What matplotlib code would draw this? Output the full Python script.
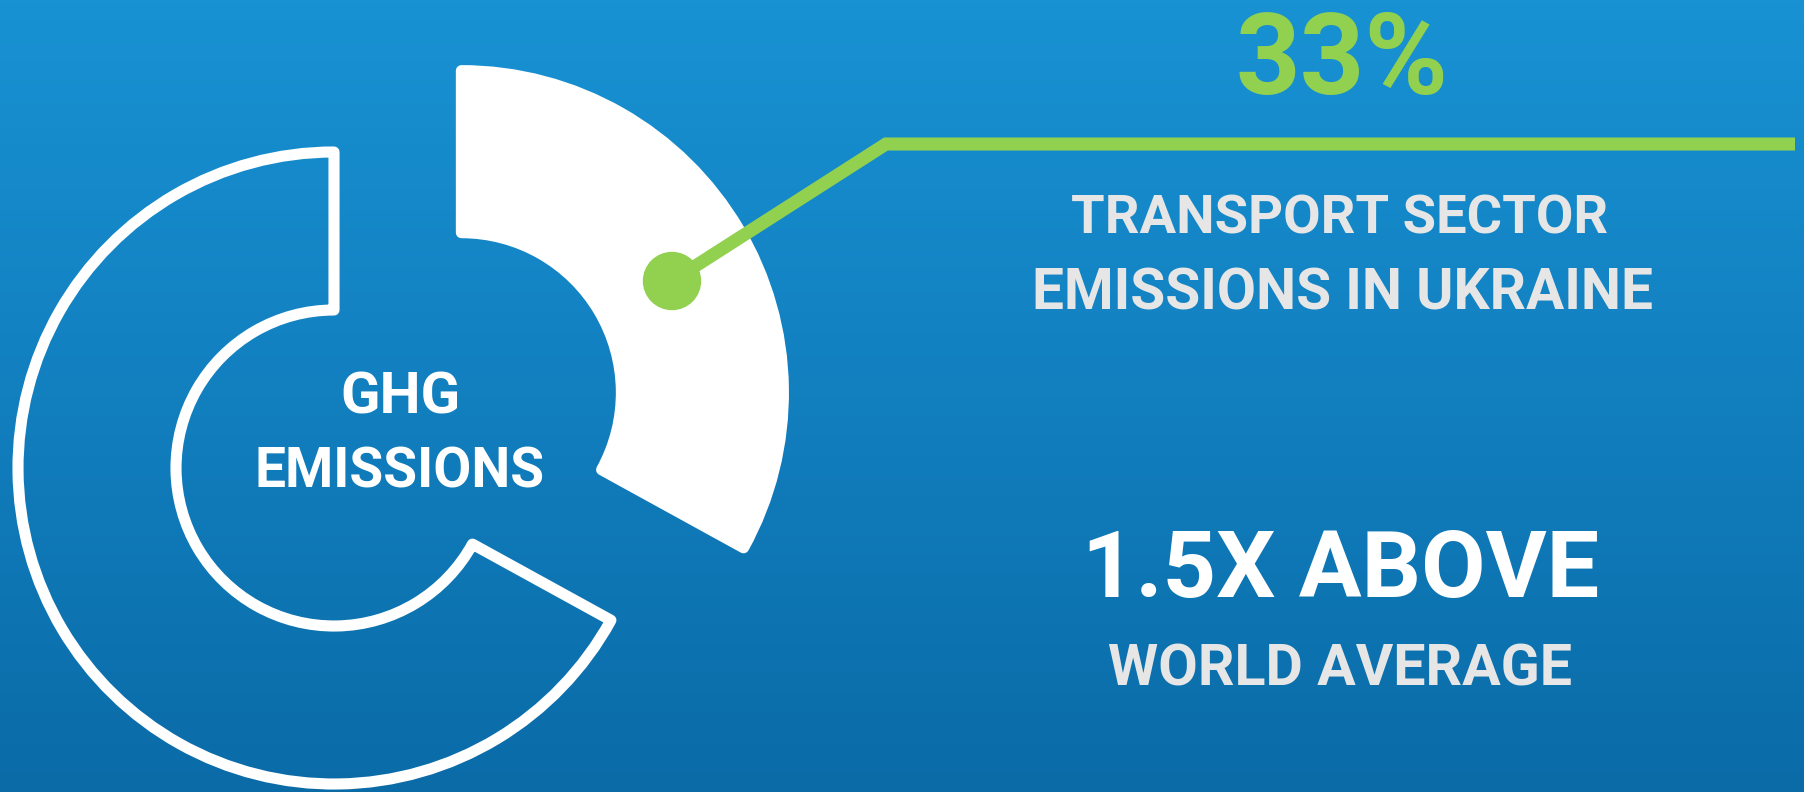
import numpy as np
import matplotlib
matplotlib.use('Agg')
import matplotlib.pyplot as plt
from matplotlib.colors import LinearSegmentedColormap
from matplotlib.patches import Circle

plt.rcParams['font.family'] = ['Roboto', 'DejaVu Sans']

# data
shares = [33, 67]
share_label = '33%'
sector_lines = ['TRANSPORT SECTOR', 'EMISSIONS IN UKRAINE']
compare_lines = ['1.5X ABOVE', 'WORLD AVERAGE']
center_lines = ['GHG', 'EMISSIONS']

W, H = 1804, 792
green = '#92d050'
grey = '#e6e6e6'

fig = plt.figure(figsize=(W / 100, H / 100), dpi=100)
ax = fig.add_axes([0, 0, 1, 1])

# background gradient
bg = LinearSegmentedColormap.from_list('bg', ['#0a6ba7', '#127fbf', '#1892d3'])
grad = np.linspace(0, 1, 256).reshape(-1, 1)
ax.imshow(grad, cmap=bg, extent=[0, W, 0, H], origin='lower', aspect='auto', zorder=0)

# donut: exploded solid slice + outlined remainder
wedges, _ = ax.pie(shares, startangle=90, counterclock=False, radius=316,
                   center=(334, H - 468), explode=[148, 0],
                   wedgeprops=dict(width=158, linewidth=8, edgecolor='white'))
wedges[0].set_facecolor('white')
wedges[0].set_radius(322)
wedges[0].set_width(162)
wedges[1].set_facecolor('none')
for w in wedges:
    w.set_joinstyle('round')
    w.set_zorder(2)

# leader line and dot
ax.plot([672, 886, 1795], [H - 281, H - 144, H - 144], color=green, lw=9.4,
        solid_capstyle='butt', solid_joinstyle='miter', zorder=3)
ax.add_patch(Circle((672, H - 281), 28.5, color=green, zorder=4))

ax.set_xlim(0, W)
ax.set_ylim(0, H)
ax.axis('off')

# texts: (string, center x, baseline y, target width, color)
specs = [
    (share_label, 1342, 94, 213, green),
    (sector_lines[0], 1340, 234, 536, grey),
    (sector_lines[1], 1342, 310, 620, grey),
    (compare_lines[0], 1341, 597, 517, 'white'),
    (compare_lines[1], 1340, 685, 464, grey),
    (center_lines[0], 400, 413, 120, 'white'),
    (center_lines[1], 400, 488, 290, 'white'),
]
texts = []
for s, x, y, tw, c in specs:
    t = ax.text(x, H - y, s, ha='center', va='baseline', color=c,
                fontsize=40, fontweight='bold', zorder=5)
    texts.append((t, tw))

fig.canvas.draw()
r = fig.canvas.get_renderer()
for t, tw in texts:
    w = t.get_window_extent(r).width
    t.set_fontsize(t.get_fontsize() * tw / w)

fig.savefig('out.png', dpi=100)
